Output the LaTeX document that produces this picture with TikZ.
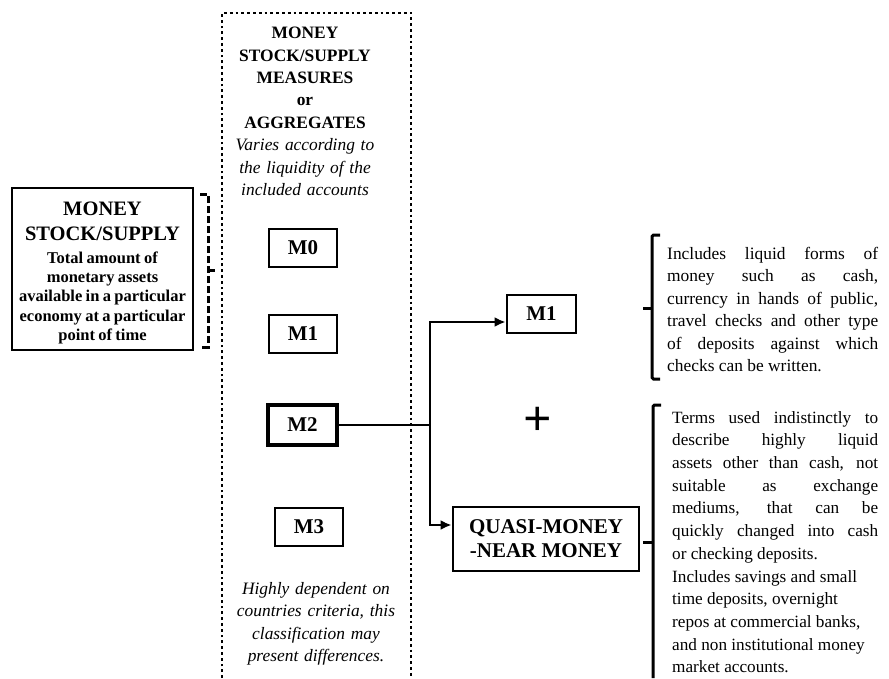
\documentclass[tikz,border=0pt]{standalone}
\usepackage{fontspec}
\setmainfont{Liberation Serif}
\usetikzlibrary {positioning}
\usetikzlibrary{arrows.meta}
\usetikzlibrary{calc}

\begin{document}
\begin{tikzpicture}[x=1pt,y=-1pt,
    mbox/.style={draw, line width=1.3pt, minimum width=68pt, minimum height=38pt, inner sep=0pt, font=\fontsize{21}{21}\selectfont\bfseries},
    bigbox/.style={draw, line width=2.8pt, inner sep=0pt, font=\fontsize{21}{24}\selectfont\bfseries, align=center},
    note/.style={inner sep=0pt, font=\fontsize{17.4}{22.4}\selectfont},
    bracket/.style={line width=3pt, rounded corners=1.5pt},
    link/.style={line width=2.4pt}]
  % page frame
  \useasboundingbox (0,0) rectangle (889,678);

  % left box with its dashed bracket
  \node[draw, line width=1.6pt, minimum width=181pt, minimum height=162pt, inner sep=0pt] (supply) at (102.5,269) {};
  \node[text width=181pt, align=center, inner sep=0pt, anchor=north] (supplytext) at ([yshift=-15pt]supply.north)
    {{\fontsize{20.5}{25}\selectfont\bfseries MONEY\\STOCK/SUPPLY\par}\vspace{3pt}
     {\fontsize{16.5}{19.3}\selectfont\bfseries Total amount of\\monetary assets\\available in a particular\\economy at a particular\\point of time\par}};
  \draw[line width=3pt, dash pattern=on 7pt off 3pt] (200,194) -- (208,194) -- (208,347) -- (200,347);
  \draw[line width=3pt] (208,270) -- (215,270);

  % dotted column of measures
  \draw[line width=2.8pt, dash pattern=on 2.8pt off 3pt] (222,678) -- (222,13) -- (411,13) -- (411,678);
  \node[note, text width=160pt, align=center, anchor=north] (measures) at (305,27)
    {\bfseries MONEY\\STOCK/SUPPLY\\MEASURES\\or\\AGGREGATES\\
     \normalfont\itshape Varies according to\\the liquidity of the\\included accounts};
  \foreach \i/\x/\y in {0/303/248, 1/303/334, 3/309/527}
    {\node[mbox] (m\i) at (\x,\y) {M\i};}
  \node[mbox, line width=3.2pt, minimum width=69pt, minimum height=40pt] (m2) at (302.5,425) {M2};
  \node[note, text width=170pt, align=center, anchor=north, font=\fontsize{17.4}{22.4}\selectfont\itshape] (remark) at (316,582)
    {Highly dependent on\\countries criteria, this\\classification may\\present differences.};

  % split of M2
  \node[bigbox, minimum width=69pt, minimum height=38pt] (narrow) at (541.5,314) {M1};
  \node[bigbox, minimum width=186pt, minimum height=64pt] (quasi) at (546,539) {QUASI-MONEY\\-NEAR MONEY};
  \node[inner sep=0pt, font=\fontsize{50}{50}\selectfont\bfseries] (plus) at (538,421) {+};
  \coordinate (split) at (430,425);
  \draw[link] (m2) -- (split);
  \draw[link, -{Latex[length=11pt,width=10pt]}] (split) |- ([yshift=-8pt]narrow.west);
  \draw[link, -{Latex[length=11pt,width=10pt]}] (split) |- ([yshift=14pt]quasi.west);

  % explanations on the right
  \node[note, text width=211pt, align=justify, anchor=north west] (info1) at (667,247)
    {\hyphenpenalty=10000 Includes liquid forms of\linebreak money such as cash,\linebreak currency in hands of public,\linebreak travel checks and other type\linebreak of deposits against which\linebreak checks can be written.};
  \draw[bracket] (660,235) -- (652,235) -- (652,379) -- (660,379);
  \draw[line width=3pt] (652,308) -- (643,308);

  \node[note, text width=206pt, align=justify, anchor=north west, font=\fontsize{17.2}{22.7}\selectfont] (info2) at (672,411)
    {\hyphenpenalty=10000 Terms used indistinctly to\linebreak describe highly liquid\linebreak assets other than cash, not\linebreak suitable as exchange\linebreak mediums, that can be\linebreak quickly changed into cash\linebreak or checking deposits.\\
     Includes savings and small\\time deposits, overnight\\repos at commercial banks,\\and non institutional money\\market accounts.};
  \draw[bracket] (661,405) -- (653,405) -- (653,678);
  \draw[line width=3pt] (653,542) -- (643,542);
\end{tikzpicture}
\end{document}
